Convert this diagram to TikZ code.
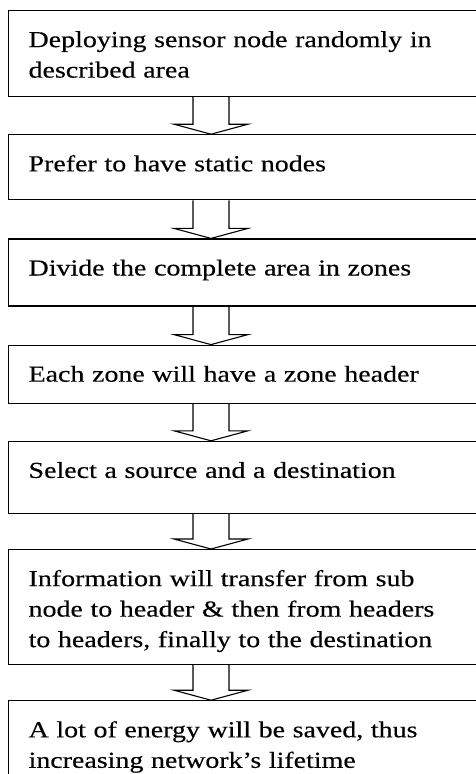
\documentclass[tikz,border=0pt]{standalone}
\usepackage{fontspec}
\setmainfont[FakeStretch=1.22,FakeBold=0.35]{Liberation Serif}
\usetikzlibrary{positioning,calc}
\tikzset{
  stepbox/.style = {draw, line width=1.2pt, text width=442pt, inner xsep=20.5pt,
                    inner ysep=0pt, align=left, text height=36.5pt, text depth=#1,
                    font=\fontsize{22.9}{30.5}\selectfont},
  flowline/.style = {line width=1.1pt, line join=miter},
}
\newcommand\hollowarrow[2]{%
  \draw[flowline] ($(#1.south west)+(185.5,0)$) |- ($(#2.north west)+(166.5,10)$)
    -- ($(#2.north west)+(203.5,0)$) -- ($(#2.north west)+(240.5,10)$)
    -| ($(#1.south west)+(221.5,0)$);}

\begin{document}
\begin{tikzpicture}[x=1pt,y=1pt]
  \path[use as bounding box,clip] (0,0) rectangle (476,-774);
  \node[stepbox=49.5pt,anchor=north west] (deploy) at (7.5,-10)
    {Deploying sensor node randomly in\\described area};
  \node[stepbox=28.5pt,below=37pt of deploy] (static) {Prefer to have static nodes};
  \node[stepbox=30.5pt,below=38pt of static] (divide) {Divide the complete area in zones};
  \node[stepbox=21.5pt,below=38pt of divide] (header) {Each zone will have a zone header};
  \node[stepbox=35.5pt,below=37pt of header] (select) {Select a source and a destination};
  \node[stepbox=78.5pt,below=35pt of select] (transfer)
    {Information will transfer from sub\\node to header \& then from headers\\to headers, finally to the destination};
  \node[stepbox=60pt,below=35pt of transfer] (saved)
    {A lot of energy will be saved, thus\\increasing network’s lifetime};
  \hollowarrow{deploy}{static}
  \hollowarrow{static}{divide}
  \hollowarrow{divide}{header}
  \hollowarrow{header}{select}
  \hollowarrow{select}{transfer}
  \hollowarrow{transfer}{saved}
\end{tikzpicture}
\end{document}
